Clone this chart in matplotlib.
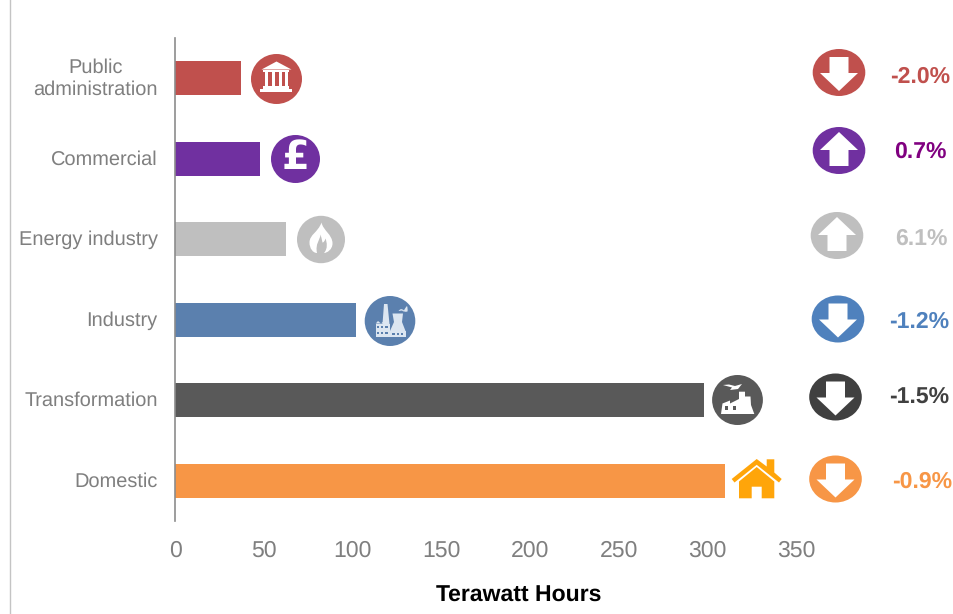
import matplotlib
matplotlib.use("Agg")
import matplotlib.pyplot as plt
from matplotlib.patches import Ellipse, Polygon, Rectangle, PathPatch
from matplotlib.path import Path
from matplotlib.transforms import ScaledTranslation

plt.rcParams['font.family'] = ['Liberation Sans', 'DejaVu Sans']
plt.rcParams['text.hinting'] = 'none'
plt.rcParams['text.hinting_factor'] = 1

W, H = 954, 614

categories = ["Domestic", "Transformation", "Industry", "Energy industry",
              "Commercial", "Public\nadministration"]
values = [310, 298, 102, 62.5, 48, 37]
bar_colors = ["#F79646", "#595959", "#5B80AE", "#BFBFBF", "#7030A0", "#C0504D"]
change_labels = ["-0.9%", "-1.5%", "-1.2%", "6.1%", "0.7%", "-2.0%"]
change_colors = ["#F79646", "#404040", "#4F81BD", "#BFBFBF", "#800080", "#C0504D"]
arrow_colors = ["#F79646", "#404040", "#4F81BD", "#BFBFBF", "#7030A0", "#C0504D"]
arrow_dirs = ["down", "down", "down", "up", "up", "down"]
x_ticks = [0, 50, 100, 150, 200, 250, 300, 350]
x_label = "Terawatt Hours"

fig = plt.figure(figsize=(W / 100, H / 100), dpi=100, facecolor="white")
ax = fig.add_axes([175 / W, 1 - 521 / H, (796 - 175) / W, (521 - 38) / H])
ypos = list(range(len(categories)))
ax.barh(ypos, values, height=0.425, color=bar_colors, linewidth=0)
ax.set_xlim(0, 350)
ax.set_ylim(-0.5, 5.5)
ax.set_yticks(ypos, categories, fontsize=14.6, color="#7F7F7F", linespacing=1.25, multialignment="center")
ax.set_xticks(x_ticks, [str(t) for t in x_ticks], fontsize=16.4, color="#7F7F7F")
ax.tick_params(axis="both", length=0)
ax.tick_params(axis="y", pad=12.5)
ax.tick_params(axis="x", pad=14)
up = ScaledTranslation(0, 1.5 / 100, fig.dpi_scale_trans)
up_more = ScaledTranslation(0, 3.5 / 100, fig.dpi_scale_trans)
for i, lab in enumerate(ax.get_yticklabels()):
    lab.set_transform(lab.get_transform() + (up_more if "\n" in categories[i] else up))
for s in ("top", "right", "bottom"):
    ax.spines[s].set_visible(False)
ax.spines["left"].set_color("#8C8C8C")
ax.spines["left"].set_linewidth(1.2)
ax.patch.set_alpha(0)

# pixel-space overlay for the pictograms and change figures
ov = fig.add_axes([0, 0, 1, 1], facecolor="none")
ov.set_xlim(0, W)
ov.set_ylim(H, 0)
ov.axis("off")

ov.plot([9.7, 9.7], [0, H], color="#C4C4C4", lw=1.0)
ov.text(519, 595.5, x_label, fontsize=16.6, fontweight="bold", color="black",
        ha="center", va="center")


def disc(cx, cy, rx, ry, c):
    ov.add_patch(Ellipse((cx, cy), 2 * rx, 2 * ry, fc=c, ec="none"))


def poly(pts, c, cx=0, cy=0):
    ov.add_patch(Polygon([(cx + x, cy + y) for x, y in pts], closed=True, fc=c, ec="none"))


def rect(x0, y0, x1, y1, c):
    ov.add_patch(Rectangle((x0, y0), x1 - x0, y1 - y0, fc=c, ec="none"))


def arrow(cx, cy, d):
    s = 1 if d == "down" else -1
    pts = [(-9.5, -15.5), (9.5, -15.5), (9.5, 0.5), (19, 0.5), (0, 18.5), (-19, 0.5), (-9.5, 0.5)]
    poly([(x, s * y) for x, y in pts], "white", cx, cy)


# change arrows + percentages
arrow_centres = [(835.5, 479), (835.5, 397), (838, 319), (837, 235.5), (839, 150.5), (839, 72.5)]
text_spots = [(922, 482), (919.5, 397), (919.5, 321.5), (921.5, 238.5), (920.5, 152), (920, 77)]
for (cx, cy), col, d, (tx, ty), lab, tc in zip(arrow_centres, arrow_colors, arrow_dirs,
                                               text_spots, change_labels, change_colors):
    disc(cx, cy, 26.3, 23.5, col)
    arrow(cx, cy, d)
    ov.text(tx, ty, lab, fontsize=16.6, fontweight="bold", color=tc, ha="center", va="center")

# public administration: bank
cx, cy = 276.5, 79
disc(cx, cy, 25.5, 25, bar_colors[5])
poly([(0, -17.5), (15, -9.5), (-15, -9.5)], "white", cx, cy)
rect(cx - 13, cy - 9, cx + 13, cy - 7, "white")
for dx in (-11.5, -4.5, 2.5, 8.5):
    rect(cx + dx, cy - 7, cx + dx + 3.2, cy + 7, "white")
rect(cx - 13, cy + 7, cx + 13, cy + 9.5, "white")
rect(cx - 16, cy + 9.5, cx + 16, cy + 12.5, "white")

# commercial: pound sign
cx, cy = 295.5, 159
disc(cx, cy, 24.5, 24, bar_colors[4])
ov.text(cx, cy - 1, "£", fontsize=29, fontweight="bold", family="DejaVu Sans",
        color="white", ha="center", va="center")

# energy industry: flame
cx, cy = 321, 239.5
disc(cx, cy, 24, 23.7, bar_colors[3])
flame = Path(
    [(0.5, -17), (2, -9), (11.5, -5), (11.5, 4), (11.5, 10), (6, 13.5), (3, 13.5),
     (7, 9), (6, 3), (4.5, -1), (3.5, 2), (2.5, 3), (1.5, 3),
     (1, 0), (0, -3), (-0.5, -5), (-1, 1), (-6, 4), (-4, 13.5),
     (-8, 13.5), (-11.5, 9), (-11.5, 3), (-11.5, -5), (-3, -7), (0.5, -17)],
    [Path.MOVETO] + [Path.CURVE4] * 24)
flame = Path([(x + cx, y + cy) for x, y in flame.vertices], flame.codes)
ov.add_patch(PathPatch(flame, fc="white", ec="none"))

# industry: power station
cx, cy = 390, 321
disc(cx, cy, 25.3, 25, bar_colors[2])
pale = "#DCE6F1"
poly([(384, 304), (387.5, 304), (389.5, 324), (382.5, 324)], pale)
rect(375.7, 323.5, 390, 336.7, pale)
poly([(375.7, 323.5), (378, 321), (381, 323.5), (384, 321), (388, 323.5)], pale)
poly([(392.5, 313.5), (403, 313.5), (402, 322), (405.5, 331), (390, 331), (394, 322)], pale)
rect(390, 331, 405.7, 336.7, pale)
for wx, wy in [(377, 326), (381, 326), (385.5, 326), (377, 331.5), (381, 331.5), (385.5, 331.5),
               (392.5, 332.5), (397, 332.5), (401, 332.5)]:
    rect(wx, wy, wx + 2.2, wy + 2.2, bar_colors[2])
smoke = Path([(398.5, 311), (401, 307.5), (404, 310.5), (405, 308), (407, 306), (408, 308.5),
              (407.5, 311.5), (404, 312.5), (402, 310.5), (398.5, 311)],
             [Path.MOVETO] + [Path.CURVE3] * 8 + [Path.CLOSEPOLY])
ov.add_patch(PathPatch(smoke, fc=pale, ec="none"))

# transformation: factory
cx, cy = 737.5, 400
disc(cx, cy, 25.4, 25, bar_colors[1])
poly([(721, 414), (722.5, 403.5), (730, 400.5), (730, 403.5), (739, 399), (739, 391.7), (745, 391.7),
      (745, 396.5), (750.5, 396.5), (751, 405), (754.3, 414)], "white")
rect(725, 405.5, 728.5, 409.8, bar_colors[1])
rect(732.7, 405.5, 736, 409.8, bar_colors[1])
poly([(723, 385), (729, 384.5), (735, 386), (742, 384), (738, 389), (730, 390), (732, 387.5)], "white")

# domestic: house
house = "#FFA50A"
poly([(756.7, 459), (766.7, 466.5), (766.7, 459.3), (774.3, 459.3), (774.3, 472.5),
      (781.7, 479), (779, 482.5), (756.7, 464.8), (734.5, 482.5), (731.7, 479)], house)
poly([(756.7, 467), (774.3, 481.5), (774.3, 498.3), (761.7, 498.3), (761.7, 486.7),
      (751.7, 486.7), (751.7, 498.3), (739, 498.3), (739, 481.5)], house)

fig.savefig("out.png", dpi=100)
